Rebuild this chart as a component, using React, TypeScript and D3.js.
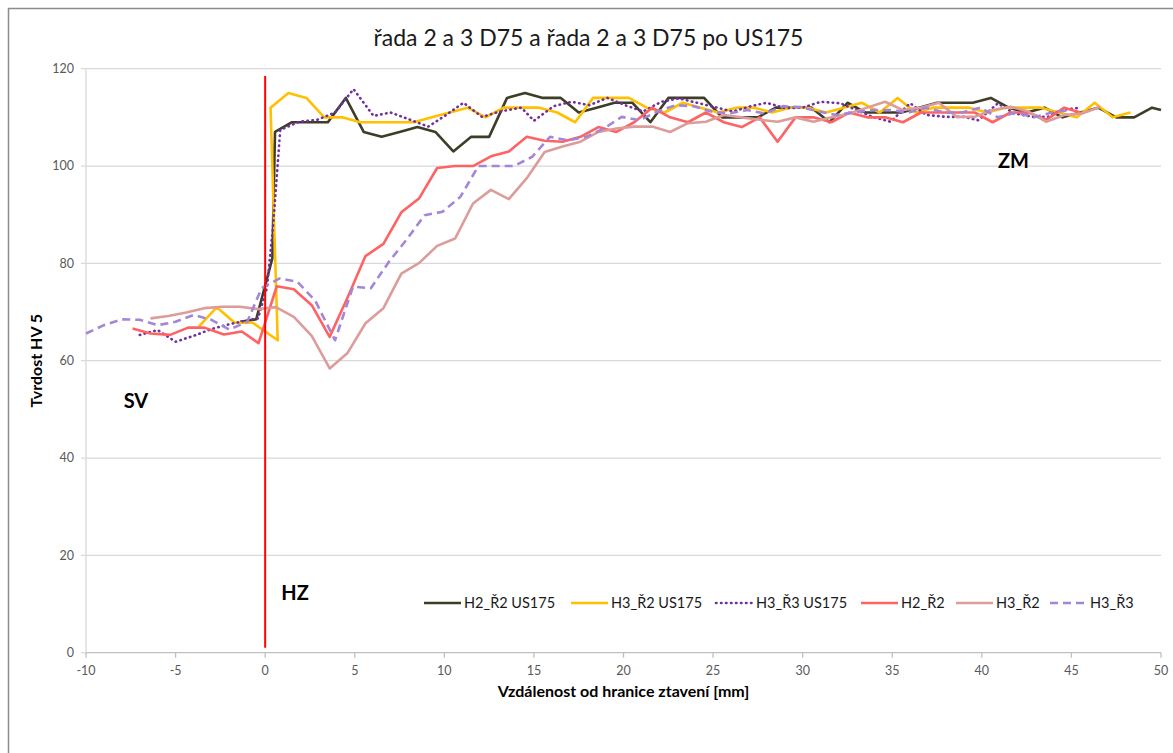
import * as d3 from 'd3';
import React from 'react';

// chart texts
const title = 'řada 2 a 3 D75 a řada 2 a 3 D75 po US175';
const xTitle = 'Vzdálenost od hranice ztavení [mm]';
const yTitle = 'Tvrdost HV 5';
const xTicks = [-10, -5, 0, 5, 10, 15, 20, 25, 30, 35, 40, 45, 50];
const yTicks = [0, 20, 40, 60, 80, 100, 120];

// series values [distance mm, HV 5]
const h2r2US175: [number, number][] = [
  [-1.4, 68], [-0.5, 68.5], [0.4, 81], [0.55, 107], [1.5, 109], [2.5, 109], [3.5, 109], [4.5, 114],
  [5.5, 107], [6.5, 106], [7.5, 107], [8.5, 108], [9.5, 107], [10.5, 103], [11.5, 106], [12.5, 106],
  [13.5, 114], [14.5, 115], [15.5, 114], [16.5, 114], [17.5, 111], [18.5, 112], [19.5, 113], [20.5, 113],
  [21.5, 109], [22.5, 114], [23.5, 114], [24.5, 114], [25.5, 110], [26.5, 110], [27.5, 110], [28.5, 112],
  [29.5, 112], [30.5, 112], [31.5, 109], [32.5, 113], [33.5, 111], [34.5, 111], [35.5, 111], [36.5, 112],
  [37.5, 113], [38.5, 113], [39.5, 113], [40.5, 114], [41.5, 112], [42.5, 111], [43.5, 112], [44.5, 110],
  [45.5, 111], [46.5, 112], [47.5, 110], [48.5, 110], [49.5, 112], [50, 111.5],
];
const h3r2US175: [number, number][] = [
  [-3.7, 67], [-2.7, 71], [-1.7, 67.8], [-0.7, 67.8], [0.7, 64.2], [0.3, 112], [1.3, 115], [2.3, 114],
  [3.3, 110], [4.3, 110], [5.3, 109], [6.3, 109], [7.3, 109], [8.3, 109], [9.3, 110], [10.3, 111],
  [11.3, 112], [12.3, 110], [13.3, 112], [14.3, 112], [15.3, 112], [16.3, 111], [17.3, 109], [18.3, 114],
  [19.3, 114], [20.3, 114], [21.3, 112], [22.3, 111], [23.3, 113], [24.3, 112], [25.3, 111], [26.3, 112],
  [27.3, 112], [28.3, 111], [29.3, 112], [30.3, 112], [31.3, 111], [32.3, 112], [33.3, 113], [34.3, 111],
  [35.3, 114], [36.3, 111], [37.3, 112], [38.3, 112], [39.3, 112], [40.3, 111], [41.3, 112], [42.3, 112],
  [43.3, 112], [44.3, 111], [45.3, 110], [46.3, 113], [47.3, 110], [48.3, 111],
];
const h3r3US175: [number, number][] = [
  [-7, 65.3], [-6, 66.3], [-5, 63.9], [-4, 65.1], [-3, 66.5], [-2, 67.5], [-1, 68.3], [-0.4, 68.7],
  [0.1, 75], [0.45, 88], [0.84, 107.4], [1.9, 109.1], [2.9, 109.5], [3.9, 111], [4.93, 115.8], [6.05, 110.3],
  [7, 111], [8.1, 109.5], [9.1, 108.1], [10.1, 110.5], [11.07, 113], [12.1, 110.1], [13.1, 111.2], [14.3, 112],
  [15, 109.3], [16.1, 112.3], [17.1, 113.2], [18.1, 112.5], [19.1, 114], [20.1, 112.5], [21.1, 111.2], [22.1, 113.2],
  [23.1, 113.9], [24.1, 113], [25, 112.2], [26.1, 111.2], [27.1, 112.3], [28, 113], [29, 111.9], [30, 112],
  [31, 113.2], [32.1, 112.9], [33, 111.5], [33.9, 110.1], [34.9, 109.1], [36, 112.9], [36.9, 110.5], [38, 110.1],
  [39, 110.1], [39.8, 109.4], [40.9, 112.9], [41.8, 110.8], [42.9, 110.1], [43.7, 110.1], [44.4, 111.5], [45.3, 111.9],
];
const h2r2: [number, number][] = [
  [-7.4, 66.6], [-6.4, 65.6], [-5.3, 65.3], [-4.3, 66.8], [-3.4, 66.8], [-2.3, 65.4], [-1.3, 66], [-0.37, 63.6],
  [0.65, 75.3], [1.6, 74.7], [2.6, 71.4], [3.6, 64.9], [4.6, 73], [5.6, 81.5], [6.6, 84], [7.6, 90.5],
  [8.6, 93.4], [9.6, 99.6], [10.6, 100], [11.6, 100], [12.6, 102], [13.6, 103], [14.6, 106], [15.6, 105.2],
  [16.6, 105], [17.6, 106], [18.6, 108], [19.6, 107], [20.6, 109], [21.6, 112], [22.6, 110], [23.6, 109],
  [24.6, 111], [25.6, 109], [26.6, 108], [27.6, 110], [28.6, 105], [29.6, 110], [30.6, 110], [31.6, 109],
  [32.6, 111], [33.6, 110], [34.6, 110], [35.6, 109], [36.6, 111], [37.6, 111], [38.6, 111], [39.6, 111],
  [40.6, 109], [41.6, 111], [42.6, 111], [43.6, 109.5], [44.6, 112], [45.5, 111],
];
const h3r2: [number, number][] = [
  [-6.4, 68.7], [-5.4, 69.2], [-4.4, 69.9], [-3.4, 70.8], [-2.4, 71.1], [-1.4, 71.1], [-0.4, 70.6], [0.6, 71],
  [1.6, 69], [2.6, 65.1], [3.6, 58.4], [4.6, 61.6], [5.6, 67.7], [6.6, 70.8], [7.6, 77.9], [8.6, 80.1],
  [9.6, 83.6], [10.6, 85.1], [11.6, 92.3], [12.6, 95.1], [13.6, 93.2], [14.6, 97.5], [15.6, 102.9], [16.6, 104],
  [17.6, 105], [18.6, 107], [19.6, 107.7], [20.6, 108.1], [21.6, 108.1], [22.6, 107], [23.6, 108.8], [24.6, 109.1],
  [25.6, 110.5], [26.6, 110], [27.6, 109.5], [28.6, 109.1], [29.6, 110], [30.6, 109.1], [31.6, 110], [32.6, 110.8],
  [33.6, 112], [34.6, 113.2], [35.6, 111.5], [36.6, 112], [37.6, 113], [38.6, 110.1], [39.6, 110.1], [40.6, 111.5],
  [41.6, 112.2], [42.6, 111.2], [43.6, 109.1], [44.6, 110.5], [45.6, 110.8], [46.6, 112.2],
];
const h3r3: [number, number][] = [
  [-10, 65.6], [-9, 67.3], [-8, 68.5], [-7, 68.4], [-6, 67.3], [-5, 68], [-4, 69.4], [-3, 68.4],
  [-2, 66.4], [-1, 68], [-0.2, 74.9], [0.8, 76.9], [1.8, 76.2], [2.8, 72.3], [3.9, 64.2], [4.9, 75.2],
  [5.9, 74.9], [6.9, 80.3], [7.9, 84.9], [8.9, 89.9], [9.9, 90.6], [10.9, 93.7], [11.9, 100], [12.9, 100],
  [13.9, 100], [14.9, 101.9], [15.9, 106], [16.9, 105.3], [17.9, 106], [18.9, 107.7], [19.9, 110.1], [20.9, 109.4],
  [21.9, 111.2], [22.9, 112.5], [23.9, 112.3], [24.9, 111.2], [25.9, 110.8], [26.9, 111.5], [27.9, 110.8], [28.9, 112.3],
  [29.9, 112.1], [30.9, 111.2], [31.9, 110.5], [32.9, 111], [33.9, 111.5], [34.9, 111.5], [35.9, 111], [36.9, 112],
  [37.9, 111], [38.9, 111], [39.9, 112], [40.9, 110], [41.9, 111], [42.9, 110], [43.9, 111], [44.9, 111.5],
];

// fusion boundary marker (HZ) and zone labels, in data units
const hzLine: [number, number][] = [[0, 1], [0, 118.5]];
const zoneLabels: { text: string; x: number; y: number }[] = [
  { text: 'SV', x: -7.9, y: 50.3 },
  { text: 'ZM', x: 40.9, y: 99.5 },
  { text: 'HZ', x: 0.9, y: 10.8 },
];

const seriesNames = ['H2_Ř2 US175', 'H3_Ř2 US175', 'H3_Ř3 US175', 'H2_Ř2', 'H3_Ř2', 'H3_Ř3'];
const seriesData = [h2r2US175, h3r2US175, h3r3US175, h2r2, h3r2, h3r3];

const styles = [
  { color: '#3d3d28', dash: null as string | null, cap: 'butt' },
  { color: '#ffc000', dash: null, cap: 'butt' },
  { color: '#7030a0', dash: '0.5 4.5', cap: 'round' },
  { color: '#ff6262', dash: null, cap: 'butt' },
  { color: '#dc9c9a', dash: null, cap: 'butt' },
  { color: '#a486d8', dash: '8 5', cap: 'butt' },
];

const W = 1173;
const H = 753;
const margin = { top: 68.7, right: 12, bottom: 100.3, left: 86 };
const font = 'Lato, "Open Sans", sans-serif';

const App = () => {
  const iw = W - margin.left - margin.right;
  const ih = H - margin.top - margin.bottom;

  const x = d3.scaleLinear().domain([-10, 50]).range([0, iw]);
  const y = d3.scaleLinear().domain([0, 120]).range([ih, 0]);

  const line = d3.line<[number, number]>()
    .x(d => x(d[0]))
    .y(d => y(d[1]));

  // legend layout
  const legendY = 603 - margin.top;
  const legendStarts = [424, 571, 716, 861, 956, 1050].map(v => v - margin.left);

  return (
    <svg width={W} height={H} style={{ position: 'absolute', left: 0, top: 0, background: '#fff' }}>
      <rect x={8.5} y={8.5} width={W + 20} height={H + 20} fill="#fff" stroke="#8c8c8c" strokeWidth={1.5} />

      <text x={W / 2 + 2} y={46} textAnchor="middle" fontFamily={font} fontSize={23} fill="#1a1a1a">{title}</text>

      <g transform={`translate(${margin.left},${margin.top})`}>
        {/* gridlines + y ticks */}
        {yTicks.map(t => (
          <g key={t}>
            <line x1={-5} x2={t === 0 ? 0 : iw} y1={y(t)} y2={y(t)} stroke="#d9d9d9" strokeWidth={1.3} />
            <text x={-12} y={y(t)} dy="0.35em" textAnchor="end" fontFamily={font} fontSize={12.5} fill="#595959">{t}</text>
          </g>
        ))}
        <line x1={0} x2={0} y1={0} y2={ih} stroke="#d9d9d9" strokeWidth={1.3} />
        <line x1={0} x2={iw} y1={ih} y2={ih} stroke="#bfbfbf" strokeWidth={1.3} />
        {xTicks.map(t => (
          <g key={t}>
            <line x1={x(t)} x2={x(t)} y1={ih} y2={ih + 5} stroke="#bfbfbf" strokeWidth={1.3} />
            <text x={x(t)} y={ih + 22} textAnchor="middle" fontFamily={font} fontSize={12.5} fill="#595959">{t}</text>
          </g>
        ))}

        {seriesData.map((data, i) => (
          <path key={seriesNames[i]} d={line(data) || ''} fill="none" stroke={styles[i].color}
            strokeWidth={2.6} strokeDasharray={styles[i].dash || undefined}
            strokeLinecap={styles[i].cap as any} strokeLinejoin="round" />
        ))}

        <path d={line(hzLine) || ''} stroke="#ff0000" strokeWidth={2} fill="none" />

        {zoneLabels.map(l => (
          <text key={l.text} x={x(l.x)} y={y(l.y)} fontFamily={font} fontSize={20} fontWeight="bold" fill="#000">{l.text}</text>
        ))}

        {/* legend */}
        {seriesNames.map((name, i) => (
          <g key={name} transform={`translate(${legendStarts[i]},${legendY})`}>
            <line x1={0} x2={37} y1={0} y2={0} stroke={styles[i].color} strokeWidth={2.6}
              strokeDasharray={styles[i].dash || undefined} strokeLinecap={styles[i].cap as any} />
            <text x={40} y={0} dy="0.35em" fontFamily={font} fontSize={14.5} fill="#1a1a1a">{name}</text>
          </g>
        ))}
      </g>

      <text x={margin.left + iw / 2} y={697} textAnchor="middle" fontFamily={font} fontSize={16} fontWeight="bold" fill="#000">{xTitle}</text>
      <text transform={`translate(42,${margin.top + ih / 2}) rotate(-90)`} textAnchor="middle" fontFamily={font} fontSize={16} fontWeight="bold" fill="#000">{yTitle}</text>
    </svg>
  );
};

export default App;
